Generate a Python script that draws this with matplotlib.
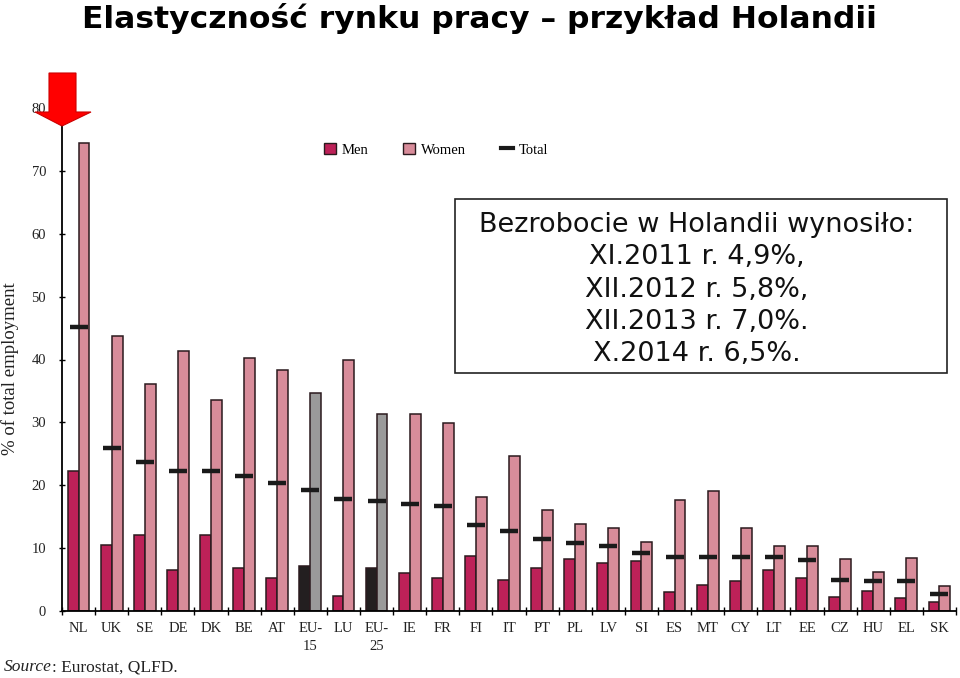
import matplotlib
matplotlib.use("Agg")
import matplotlib.pyplot as plt
from matplotlib.patches import Rectangle, Polygon, Patch
from matplotlib.lines import Line2D

W, H = 960, 678

countries = ["NL", "UK", "SE", "DE", "DK", "BE", "AT", "EU-\n15", "LU", "EU-\n25",
             "IE", "FR", "FI", "IT", "PT", "PL", "LV", "SI", "ES", "MT", "CY",
             "LT", "EE", "CZ", "HU", "EL", "SK"]
men = [22.3, 10.5, 12.1, 6.6, 12.1, 6.8, 5.2, 7.2, 2.4, 6.9, 6.0, 5.2, 8.8, 4.9,
       6.8, 8.3, 7.7, 7.9, 3.0, 4.1, 4.7, 6.6, 5.2, 2.3, 3.2, 2.1, 1.5]
women = [74.4, 43.7, 36.1, 41.4, 33.6, 40.3, 38.3, 34.7, 40.0, 31.3, 31.3, 29.9,
         18.2, 24.6, 16.1, 13.8, 13.2, 11.0, 17.7, 19.1, 13.2, 10.4, 10.4, 8.2,
         6.2, 8.5, 4.0]
total = [45.2, 25.9, 23.7, 22.3, 22.3, 21.4, 20.3, 19.2, 17.8, 17.5, 17.0, 16.7,
         13.6, 12.8, 11.4, 10.8, 10.3, 9.2, 8.6, 8.6, 8.6, 8.6, 8.1, 5.0, 4.8,
         4.8, 2.75]
eu_groups = ["EU-\n15", "EU-\n25"]

box_lines = ["Bezrobocie w Holandii wynosiło:", "XI.2011 r. 4,9%,",
             "XII.2012 r. 5,8%,", "XII.2013 r. 7,0%.", "X.2014 r. 6,5%."]

MEN_C = "#bd2158"
WOMEN_C = "#d88c9a"
EU_MEN_C = "#231f20"
EU_WOMEN_C = "#9a9a9a"
EDGE = "#2b1a1e"
SERIF = "Liberation Serif"

fig = plt.figure(figsize=(W / 100, H / 100), dpi=100)
ax = fig.add_axes([62 / W, 1 - 611 / H, (956 - 62) / W, (611 - 108) / H])

n = len(countries)
x = list(range(n))
bw = 0.33
for i in x:
    eu = countries[i] in eu_groups
    ax.bar(i - bw / 2, men[i], bw, color=EU_MEN_C if eu else MEN_C,
           edgecolor=EDGE, linewidth=1.1, zorder=2)
    ax.bar(i + bw / 2, women[i], bw, color=EU_WOMEN_C if eu else WOMEN_C,
           edgecolor=EDGE, linewidth=1.1, zorder=2)
ax.scatter(x, total, marker="_", s=150, linewidths=3.2, color="#1a1a1a", zorder=3)

ax.set_xlim(-0.5, n - 0.5)
ax.set_ylim(0, 80)
ax.set_yticks(range(0, 81, 10))
ax.set_xticks(x)
ax.set_xticklabels(countries, fontfamily=SERIF, fontsize=10.5, color="#222222",
                   linespacing=1.5, va="top")
ax.set_xticks([i - 0.5 for i in range(n + 1)], minor=True)
ax.tick_params(axis="x", which="major", length=0, pad=8)
ax.tick_params(axis="x", which="minor", direction="inout", length=6, width=1)
ax.tick_params(axis="y", direction="inout", length=5, width=1, pad=9,
               labelsize=10.5, labelcolor="#222222")
for lab in ax.get_yticklabels():
    lab.set_fontfamily(SERIF)
for s in ["top", "right"]:
    ax.spines[s].set_visible(False)
ax.spines["left"].set_linewidth(1.3)
ax.spines["bottom"].set_linewidth(1.3)
fig.text(10 / W, 1 - 369 / H, "% of total employment", rotation=90,
         ha="center", va="center", fontfamily=SERIF, fontsize=13.5,
         color="#222222")

handles = [Patch(facecolor=MEN_C, edgecolor=EDGE, linewidth=1),
           Patch(facecolor=WOMEN_C, edgecolor=EDGE, linewidth=1),
           Line2D([], [], color="#1a1a1a", linewidth=3)]
fig.legend(handles, ["Men", "Women", "Total"], loc="center",
           bbox_to_anchor=(436 / W, 1 - 150 / H), ncol=3, frameon=False,
           prop={"family": SERIF, "size": 10.5}, handlelength=0.8,
           handleheight=0.8, handletextpad=0.4, columnspacing=2.4)

# info box
fig.patches.append(Rectangle((455 / W, 1 - 373 / H), (947 - 455) / W,
                             (373 - 199) / H, transform=fig.transFigure,
                             facecolor="white", edgecolor="#222222",
                             linewidth=1.2, zorder=5))
for k, line in enumerate(box_lines):
    fig.text(697 / W, 1 - (225 + 32.3 * k) / H, line, ha="center", va="center",
             fontsize=19.5, fontfamily="DejaVu Sans", color="#111111", zorder=6)

# red arrow pointing at NL
arrow = [(49, 73), (76, 73), (76, 112), (91, 112), (62, 126), (35, 112), (49, 112)]
fig.patches.append(Polygon([(px / W, 1 - py / H) for px, py in arrow],
                           closed=True, transform=fig.transFigure,
                           facecolor="#ff0000", edgecolor="#cc0000",
                           linewidth=0.8, zorder=7))

fig.text(82 / W, 1 - 19 / H, "Elastyczność rynku pracy – przykład Holandii",
         ha="left", va="center", fontsize=22.6, fontweight="bold",
         fontfamily="DejaVu Sans", color="#000000")

src = fig.text(4 / W, 1 - 671 / H, "Source", ha="left", va="baseline",
               fontsize=12.5, fontfamily=SERIF, style="italic", color="#222222")
fig.add_artist(plt.Annotation(": Eurostat, QLFD.", xy=(1, 0), xycoords=src,
                              ha="left", va="bottom", fontsize=12.5,
                              fontfamily=SERIF, color="#222222"))

fig.savefig("out.png", dpi=100)
